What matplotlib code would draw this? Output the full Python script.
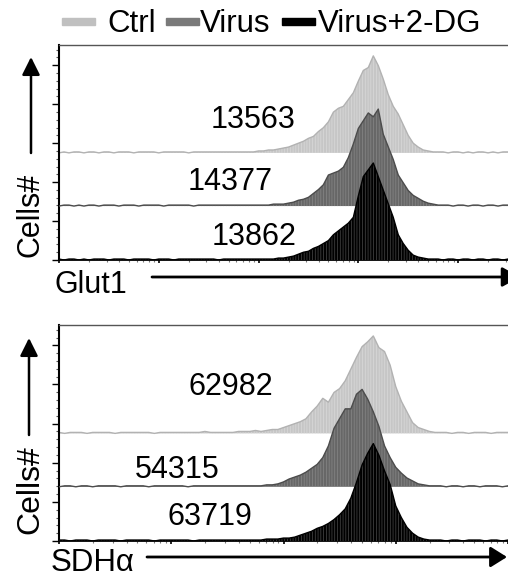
import numpy as np
import matplotlib
matplotlib.use("Agg")
import matplotlib.pyplot as plt
from matplotlib.patches import Rectangle
from matplotlib.ticker import MultipleLocator, LogLocator, NullFormatter

plt.rcParams["font.family"] = ["Liberation Sans", "DejaVu Sans"]
plt.rcParams["hatch.linewidth"] = 0.5

# --------- Data (histograms as % of mode, log-spaced channels) ---------
groups = ["Ctrl", "Virus", "Virus+2-DG"]
markers = ["Glut1", "SDHα"]

glut1_ctrl = [
    0, 1, 0, 1, 1, 0, 1, 1, 0, 1,
    1, 0, 1, 1, 1, 0, 1, 1, 1, 1,
    0, 1, 1, 1, 1, 1, 0, 1, 1, 1,
    1, 1, 1, 1, 1, 1, 1, 1, 1, 1,
    2, 2, 3, 3, 4, 5, 6, 8, 10, 12,
    15, 17, 22, 26, 32, 42, 46, 48, 55, 62,
    74, 85, 88, 100, 90, 76, 60, 48, 40, 29,
    18, 10, 6, 3, 2, 1, 1, 1, 0, 1,
    1, 0, 1, 0, 1, 1, 0, 1, 0, 1,
    1,
]
glut1_virus = [
    0, 1, 1, 0, 1, 0, 1, 1, 0, 1,
    1, 1, 0, 1, 1, 1, 0, 1, 1, 1,
    1, 0, 1, 1, 1, 1, 1, 0, 1, 1,
    1, 1, 1, 1, 1, 1, 1, 1, 1, 1,
    1, 1, 1, 2, 2, 2, 3, 4, 6, 7,
    9, 13, 17, 22, 32, 34, 36, 40, 50, 64,
    80, 88, 96, 92, 100, 74, 61, 48, 32, 24,
    16, 11, 8, 5, 3, 2, 1, 1, 1, 0,
    1, 1, 0, 1, 1, 0, 1, 1, 0, 1,
    1,
]
glut1_2dg = [
    1, 0, 1, 1, 0, 1, 0, 1, 1, 1,
    0, 1, 1, 1, 0, 1, 1, 1, 1, 0,
    1, 1, 1, 0, 1, 1, 1, 1, 1, 1,
    1, 1, 0, 1, 1, 1, 1, 1, 1, 1,
    1, 1, 1, 1, 2, 2, 3, 4, 6, 8,
    9, 12, 14, 17, 20, 26, 30, 34, 38, 44,
    66, 86, 93, 100, 86, 72, 58, 44, 26, 17,
    10, 5, 3, 2, 1, 1, 1, 0, 1, 1,
    0, 1, 1, 0, 1, 1, 0, 1, 1, 0,
    1,
]

sdha_ctrl = [
    1, 0, 1, 1, 1, 0, 1, 1, 1, 1,
    0, 1, 1, 1, 1, 1, 1, 0, 1, 1,
    1, 1, 1, 1, 1, 1, 2, 1, 1, 1,
    1, 1, 2, 2, 2, 3, 2, 3, 4, 4,
    6, 8, 10, 12, 15, 22, 28, 36, 32, 42,
    46, 54, 66, 78, 89, 94, 100, 88, 84, 70,
    48, 33, 22, 11, 6, 4, 2, 1, 1, 1,
    0, 1, 1, 0, 1, 1, 1, 0, 1, 1,
    1,
]
sdha_virus = [
    0, 1, 1, 0, 1, 1, 0, 1, 1, 1,
    1, 0, 1, 1, 1, 1, 0, 1, 1, 1,
    1, 1, 1, 0, 1, 1, 1, 1, 1, 1,
    1, 1, 1, 1, 1, 1, 1, 2, 2, 3,
    5, 8, 10, 12, 15, 19, 23, 30, 42, 60,
    70, 80, 80, 95, 100, 90, 77, 62, 42, 30,
    20, 14, 9, 6, 3, 2, 1, 1, 1, 0,
    1, 1, 0, 1, 1, 0, 1, 1, 1, 0,
    1,
]
sdha_2dg = [
    1, 1, 0, 1, 1, 1, 0, 1, 1, 1,
    1, 0, 1, 1, 1, 1, 1, 0, 1, 1,
    1, 1, 1, 1, 0, 1, 1, 1, 1, 1,
    1, 1, 1, 1, 1, 1, 1, 2, 2, 2,
    3, 3, 4, 6, 8, 10, 13, 15, 18, 22,
    27, 33, 44, 60, 78, 90, 100, 88, 72, 58,
    36, 24, 14, 8, 4, 2, 1, 1, 1, 0,
    1, 1, 0, 1, 1, 1, 0, 1, 1, 0,
    1,
]

glut1_mfi = [13563, 14377, 13862]
sdha_mfi = [62982, 54315, 63719]

# --------- Style ---------
fill_colors = ["#c6c6c6", "#676767", "#000000"]
stripe_colors = ["#dadada", "#888888", "#4a4a4a"]
line_colors = ["#b2b2b2", "#4c4c4c", "#000000"]
legend_colors = ["#c0c0c0", "#7a7a7a", "#000000"]

W, H = 508, 578


def fx(px):
    return px / W


def fy(py):
    return 1 - py / H


def draw_panel(ax, hists, log_hi):
    offsets = [2.75, 1.385, 0.0]
    peak = 2.49
    for k, vals in enumerate(hists):
        v = np.array(vals, dtype=float)
        x = 10 ** np.linspace(1.0, log_hi, len(v))
        base = offsets[k]
        top = base + v / 100.0 * peak
        ax.fill_between(x, base, top, facecolor=fill_colors[k],
                        edgecolor=stripe_colors[k], hatch="||||||",
                        linewidth=0, zorder=2 + k)
        ax.plot(x, top, color=line_colors[k], lw=1.0, zorder=2.5 + k)

    ax.set_xscale("log")
    ax.set_xlim(10, 10 ** log_hi)
    ax.set_ylim(0, 5.52)
    ax.xaxis.set_major_locator(LogLocator(base=10, numticks=10))
    ax.xaxis.set_minor_locator(LogLocator(base=10, subs=np.arange(2, 10), numticks=40))
    ax.xaxis.set_minor_formatter(NullFormatter())
    ax.set_yticks(range(6))
    ax.yaxis.set_minor_locator(MultipleLocator(0.2))
    ax.tick_params(axis="both", labelleft=False, labelbottom=False)
    ax.tick_params(axis="y", which="major", direction="out", length=5, width=1)
    ax.tick_params(axis="y", which="minor", direction="out", length=2.5, width=0.8, color="#555555")
    ax.tick_params(axis="x", which="major", direction="out", length=2.5, width=1.2)
    ax.tick_params(axis="x", which="minor", direction="out", length=1.2, width=0.8, color="#777777")
    ax.spines["right"].set_visible(False)
    ax.spines["top"].set_color("#555555")
    ax.spines["top"].set_linewidth(1.0)
    ax.spines["left"].set_linewidth(1.5)
    ax.spines["bottom"].set_linewidth(1.3)


def arrow(fig, tail, tip, lw, scale, hw=0.2):
    fig.add_artist(matplotlib.patches.FancyArrowPatch(
        (fx(tail[0]), fy(tail[1])), (fx(tip[0]), fy(tip[1])),
        transform=fig.transFigure,
        arrowstyle=f"-|>,head_length=0.4,head_width={hw}",
        mutation_scale=scale, lw=lw, color="black",
        shrinkA=0, shrinkB=0))


fig = plt.figure(figsize=(5.08, 5.78), dpi=100)

# panel 1: Glut1
ax1 = fig.add_axes([fx(59), fy(260), fx(508) - fx(59), fy(45) - fy(260)])
draw_panel(ax1, [glut1_ctrl, glut1_virus, glut1_2dg], 5.5)

# panel 2: SDHa
ax2 = fig.add_axes([fx(59), fy(541), fx(508) - fx(59), fy(325) - fy(541)])
draw_panel(ax2, [sdha_ctrl, sdha_virus, sdha_2dg], 5.0)

# MFI labels
glut1_pos = [(253, 128), (230, 190), (254, 245)]
sdha_pos = [(231, 395), (177, 478), (210, 525)]
for val, (cx, by) in zip(glut1_mfi, glut1_pos):
    fig.text(fx(cx), fy(by), str(val), ha="center", va="baseline", fontsize=22)
for val, (cx, by) in zip(sdha_mfi, sdha_pos):
    fig.text(fx(cx), fy(by), str(val), ha="center", va="baseline", fontsize=22)

# axis labels and arrows
fig.text(fx(31), fy(215), "Cells#", rotation=90, ha="center", va="center", fontsize=22)
fig.text(fx(30), fy(490), "Cells#", rotation=90, ha="center", va="center", fontsize=23)
fig.text(fx(54), fy(293), markers[0], ha="left", va="baseline", fontsize=22)
fig.text(fx(51), fy(571), markers[1], ha="left", va="baseline", fontsize=22.5)

arrow(fig, (31, 153), (31, 57), 1.8, 27)
arrow(fig, (29, 435), (29, 338), 1.8, 27)
arrow(fig, (152, 277), (520, 277), 2.0, 27, 0.22)
arrow(fig, (147, 557), (507, 557), 2.0, 25, 0.25)

# legend (top)
patch_x = [62, 166, 282]
text_x = [107, 200, 318]
for name, col, px, tx in zip(groups, legend_colors, patch_x, text_x):
    fig.add_artist(Rectangle((fx(px), fy(25)), fx(33), fy(18) - fy(25),
                             transform=fig.transFigure, color=col))
    fig.text(fx(tx), fy(32), name, ha="left", va="baseline", fontsize=22.5)

fig.savefig("out.png", dpi=100)
